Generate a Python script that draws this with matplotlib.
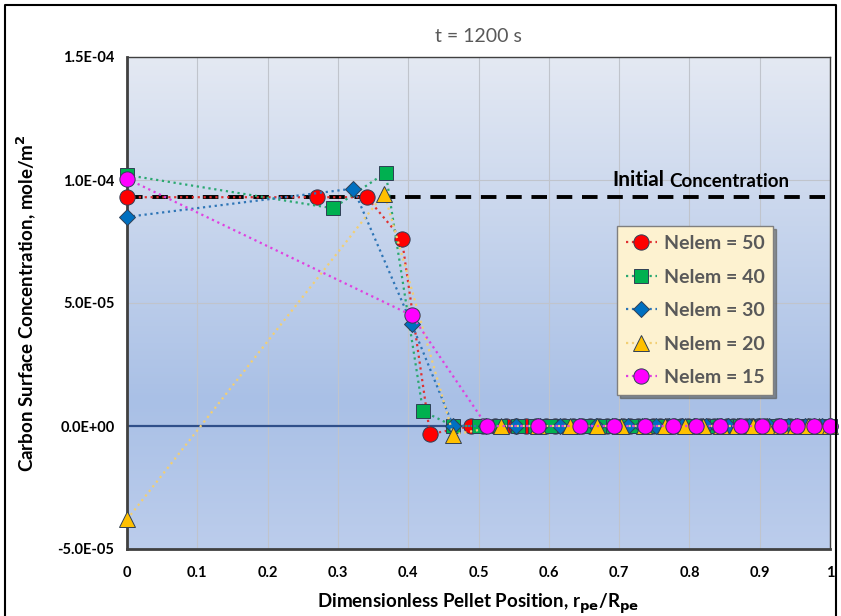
import numpy as np
import matplotlib.pyplot as plt
from matplotlib.colors import LinearSegmentedColormap

plt.rcParams['font.family'] = ['Lato', 'DejaVu Sans']

# Nelem = 50
x50 = [0, 0.270, 0.341, 0.391, 0.431,
       0.490, 0.507, 0.523, 0.539, 0.554, 0.568, 0.582, 0.596, 0.609, 0.622,
       0.635, 0.647, 0.659, 0.671, 0.683, 0.694, 0.705, 0.716, 0.727, 0.738,
       0.748, 0.758, 0.768, 0.778, 0.788, 0.798, 0.808, 0.817, 0.826, 0.835,
       0.844, 0.853, 0.862, 0.871, 0.880, 0.889, 0.898, 0.907, 0.925, 0.943,
       0.970, 1.0]
y50 = [9.3e-5, 9.3e-5, 9.3e-5, 7.6e-5, -3.3e-6] + [0.0] * 42

# Nelem = 40
x40 = [0, 0.293, 0.368, 0.421,
       0.464, 0.500, 0.530, 0.556, 0.580, 0.602, 0.622, 0.641, 0.659, 0.676,
       0.692, 0.708, 0.723, 0.737, 0.751, 0.765, 0.778, 0.791, 0.803, 0.815,
       0.827, 0.839, 0.850, 0.861, 0.872, 0.883, 0.893, 0.903, 0.913, 0.923,
       0.933, 0.943, 0.953, 0.962, 0.972, 0.981, 1.0]
y40 = [1.02e-4, 8.85e-5, 1.03e-4, 6.0e-6] + [0.0] * 37

# Nelem = 30
x30 = [0, 0.322, 0.405,
       0.464, 0.510, 0.554, 0.588, 0.616, 0.643, 0.667, 0.690, 0.712, 0.732,
       0.752, 0.771, 0.789, 0.806, 0.823, 0.839, 0.855, 0.870, 0.885, 0.899,
       0.913, 0.927, 0.940, 0.953, 0.965, 0.977, 0.989, 1.0]
y30 = [8.5e-5, 9.65e-5, 4.15e-5] + [0.0] * 28

# Nelem = 20
x20 = [0, 0.366, 0.464, 0.532, 0.585, 0.630, 0.668, 0.703, 0.736, 0.766,
       0.794, 0.820, 0.845, 0.868, 0.890, 0.911, 0.931, 0.950, 0.968, 0.985, 1.0]
y20 = [-3.8e-5, 9.45e-5, -3.5e-6] + [0.0] * 18

# Nelem = 15
x15 = [0, 0.405, 0.512, 0.585, 0.644, 0.693, 0.737, 0.776, 0.810, 0.843,
       0.874, 0.903, 0.929, 0.953, 0.977, 1.0]
y15 = [1.005e-4, 4.5e-5] + [0.0] * 14

c_init = 9.3e-5

series = [
    (x50, y50, 'Nelem = 50', 'o', '#ff0000', '#e03030', 11),
    (x40, y40, 'Nelem = 40', 's', '#00b050', '#2aa870', 10),
    (x30, y30, 'Nelem = 30', 'D', '#0070c0', '#2e75b6', 8.5),
    (x20, y20, 'Nelem = 20', '^', '#ffc000', '#f2cf74', 11),
    (x15, y15, 'Nelem = 15', 'o', '#ff00ff', '#e040e0', 11),
]

fig = plt.figure(figsize=(8.41, 6.16), dpi=100)
ax = fig.add_axes([127/841, 1-549/616, 703/841, 492/616])

# gradient background of the plot area
cmap = LinearSegmentedColormap.from_list('bg', [(0, '#bccdec'), (0.3, '#a9c0e6'), (1, '#e4e9f3')])
grad = np.linspace(0, 1, 256).reshape(-1, 1)
ax.imshow(grad, extent=[0, 1, 0, 1], transform=ax.transAxes, aspect='auto',
          cmap=cmap, origin='lower', zorder=-2)

for xs, ys, lab, mk, fc, lc, ms in series:
    ax.plot(xs, ys, linestyle=':', color=lc, linewidth=1.6, marker=mk,
            markersize=ms, markerfacecolor=fc, markeredgecolor='#2f3f55',
            markeredgewidth=0.7, label=lab, zorder=3, clip_on=False)

ax.axhline(0, color='#2f4f8a', linewidth=1.6, zorder=2)
ax.axhline(c_init, color='black', linewidth=2.8, linestyle=(0, (4, 2.5)), zorder=2.5)

t1 = ax.text(0.69, 9.75e-5, 'Initial', fontsize=15, fontweight='bold',
             color='black', va='baseline', zorder=5)
ax.annotate('Concentration', xy=(1, 0), xycoords=t1, xytext=(4, 0),
            textcoords='offset points', fontsize=13.5, fontweight='bold',
            color='black', va='bottom', zorder=5)

ax.set_xlim(0, 1)
ax.set_ylim(-5e-5, 1.5e-4)
ax.set_xticks(np.arange(0, 1.01, 0.1))
ax.set_xticklabels(['0', '0.1', '0.2', '0.3', '0.4', '0.5', '0.6', '0.7', '0.8', '0.9', '1'])
ax.set_yticks([-5e-5, 0, 5e-5, 1e-4, 1.5e-4])
ax.set_yticklabels(['-5.0E-05', '0.0E+00', '5.0E-05', '1.0E-04', '1.5E-04'])
ax.grid(True, color='#c0c4cc', linewidth=0.8, zorder=0)
ax.set_axisbelow(True)
ax.tick_params(axis='y', length=0, labelsize=10.5, pad=9, colors='black')
ax.tick_params(axis='x', length=0, labelsize=10.5, pad=12, colors='black')
for lbl in ax.get_xticklabels() + ax.get_yticklabels():
    lbl.set_fontweight('bold')

for side in ['top', 'right']:
    ax.spines[side].set_color('#404040')
    ax.spines[side].set_linewidth(1.0)
for side in ['left', 'bottom']:
    ax.spines[side].set_color('#404040')
    ax.spines[side].set_linewidth(2.0)

fig.text(478/841, 1-604/616,
         r'Dimensionless Pellet Position, r$_{\mathbf{pe}}$/R$_{\mathbf{pe}}$',
         fontsize=13.5, fontweight='bold', ha='center', va='center')
ax.set_ylabel(r'Carbon Surface Concentration, mole/m$^{\mathbf{2}}$',
              fontsize=13.5, fontweight='bold', labelpad=14)
fig.text(478/841, 1-37/616, 't = 1200 s', fontsize=14, color='#595959',
         ha='center', va='center')

leg = ax.legend(loc='upper left', bbox_to_anchor=(0.697, 0.656), fontsize=14,
                frameon=True, fancybox=False, shadow=True, borderpad=0.45,
                borderaxespad=0, labelspacing=0.85, handlelength=1.6,
                handletextpad=0.35)
leg.get_frame().set_facecolor('#fdf2d0')
leg.get_frame().set_edgecolor('#7f7f7f')
leg.get_frame().set_alpha(1)
for txt in leg.get_texts():
    txt.set_fontweight('bold')
    txt.set_color('#595959')

# outer chart border (bottom edge falls outside the picture)
bx = [5/841, 5/841, 836/841, 836/841]
by = [0, 611/616, 611/616, 0]
fig.add_artist(plt.Line2D(bx, by, transform=fig.transFigure, color='black', linewidth=1.5))

fig.savefig('out.png', dpi=100, facecolor='white')
